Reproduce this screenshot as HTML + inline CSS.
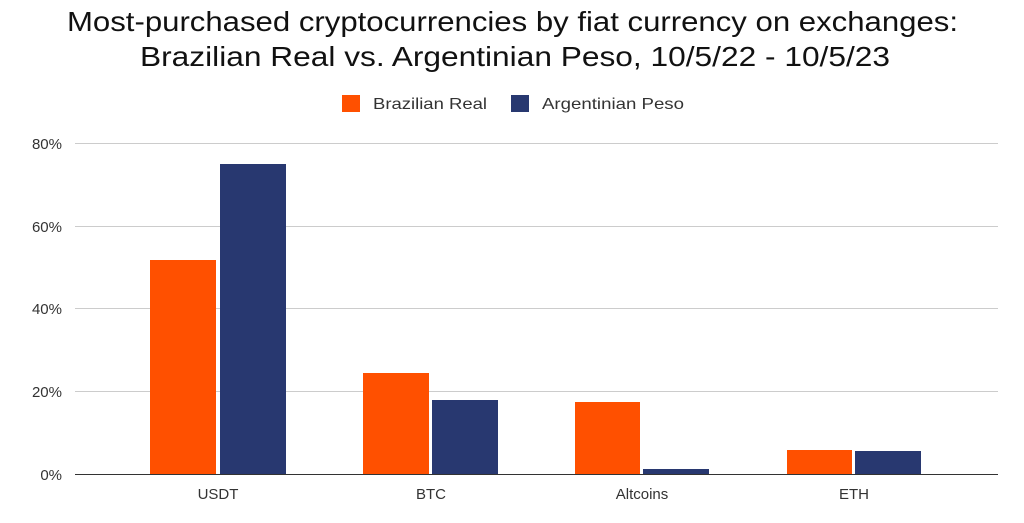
<!DOCTYPE html>
<html><head><meta charset="utf-8"><style>body{margin:0;background:#fff}</style></head><body>
<svg width="1024" height="518" xmlns="http://www.w3.org/2000/svg" font-family="Liberation Sans, sans-serif">
<rect width="1024" height="518" fill="#fff"/>
<text x="67" y="31" font-size="28" textLength="891" lengthAdjust="spacingAndGlyphs" fill="#111">Most-purchased cryptocurrencies by fiat currency on exchanges:</text>
<text x="140" y="66" font-size="28" textLength="750" lengthAdjust="spacingAndGlyphs" fill="#111">Brazilian Real vs. Argentinian Peso, 10/5/22 - 10/5/23</text>
<rect x="342" y="95" width="18" height="17" fill="#FF5000"/>
<text x="373" y="109" font-size="16" textLength="114" lengthAdjust="spacingAndGlyphs" fill="#333">Brazilian Real</text>
<rect x="511" y="95" width="18" height="17" fill="#283870"/>
<text x="542" y="109" font-size="16" textLength="142" lengthAdjust="spacingAndGlyphs" fill="#333">Argentinian Peso</text>
<g stroke="#ccc" stroke-width="1">
<line x1="75" x2="998" y1="143.5" y2="143.5"/>
<line x1="75" x2="998" y1="226.5" y2="226.5"/>
<line x1="75" x2="998" y1="308.5" y2="308.5"/>
<line x1="75" x2="998" y1="391.5" y2="391.5"/>
</g>
<g font-size="15" fill="#333" text-anchor="end">
<text x="62" y="149">80%</text>
<text x="62" y="232">60%</text>
<text x="62" y="314">40%</text>
<text x="62" y="397">20%</text>
<text x="62" y="480">0%</text>
</g>
<g fill="#FF5000">
<rect x="150" y="260" width="66" height="214"/>
<rect x="363" y="373" width="66" height="101"/>
<rect x="575" y="402" width="65" height="72"/>
<rect x="787" y="450" width="65" height="24"/>
</g>
<g fill="#283870">
<rect x="220" y="164" width="66" height="310"/>
<rect x="432" y="400" width="66" height="74"/>
<rect x="643" y="469" width="66" height="5"/>
<rect x="855" y="451" width="66" height="23"/>
</g>
<line x1="75" x2="998" y1="474.5" y2="474.5" stroke="#333" stroke-width="1"/>
<g font-size="15" fill="#333" text-anchor="middle">
<text x="218" y="499">USDT</text>
<text x="431" y="499">BTC</text>
<text x="642" y="499">Altcoins</text>
<text x="854" y="499">ETH</text>
</g>
</svg>
</body></html>
